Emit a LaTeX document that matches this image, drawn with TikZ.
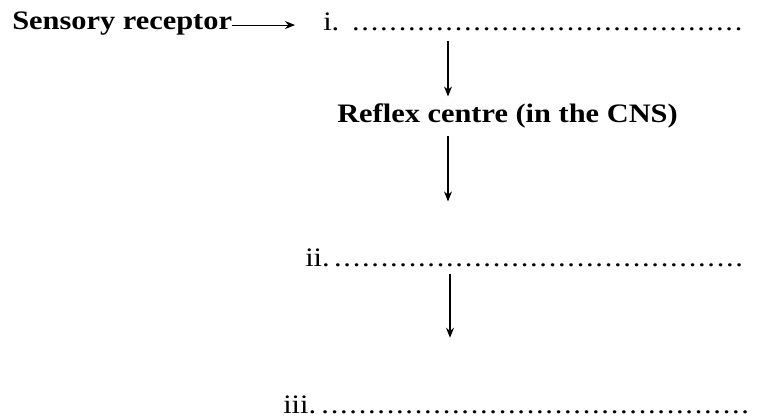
\documentclass[tikz,border=0pt]{standalone}
\usepackage{fontspec}
\setmainfont{Liberation Serif}[FakeStretch=1.14]
\usetikzlibrary{arrows.meta}
\newcommand{\dotrule}{\leaders\hbox to 7pt{\hss.\hss}\hfill}

\begin{document}
\begin{tikzpicture}[x=0.75pt,y=-0.75pt,
  every node/.style={inner sep=0pt,anchor=base west,font=\fontsize{20}{24}\selectfont},
  term/.style={font=\fontsize{20}{24}\selectfont\bfseries},
  flow/.style={-{Stealth[length=7.5pt,width=6pt]},line width=0.8pt}]
\useasboundingbox (0,0) rectangle (757,418);
\node[term] (sens) at (12,29) {Sensory receptor};
\node (iline) at (323,30) {\hbox to 320pt{i.\,\dotrule}};
\node[term] (refl) at (337,122) {Reflex centre (in the CNS)};
\node (iiline) at (305,266) {\hbox to 334pt{ii.\dotrule}};
\node (iiiline) at (283,413) {\hbox to 350pt{iii.\dotrule}};
\coordinate (col) at (448,0);
\coordinate (col2) at (450,0);

\draw[flow,shorten >=21pt] ([yshift=-1.5pt]sens.east) -- ([yshift=-1.5pt]sens.east -| iline.west);
\draw[flow,shorten <=7.5pt,shorten >=4.9pt] (iline.south -| col) -- (refl.north -| col);
\draw[flow,shorten <=6pt,shorten >=35pt] (refl.south -| col) -- (iiline.north -| col);
\draw[flow,shorten <=5.3pt,shorten >=43pt] (iiline.south -| col2) -- (iiiline.north -| col2);
\end{tikzpicture}
\end{document}
